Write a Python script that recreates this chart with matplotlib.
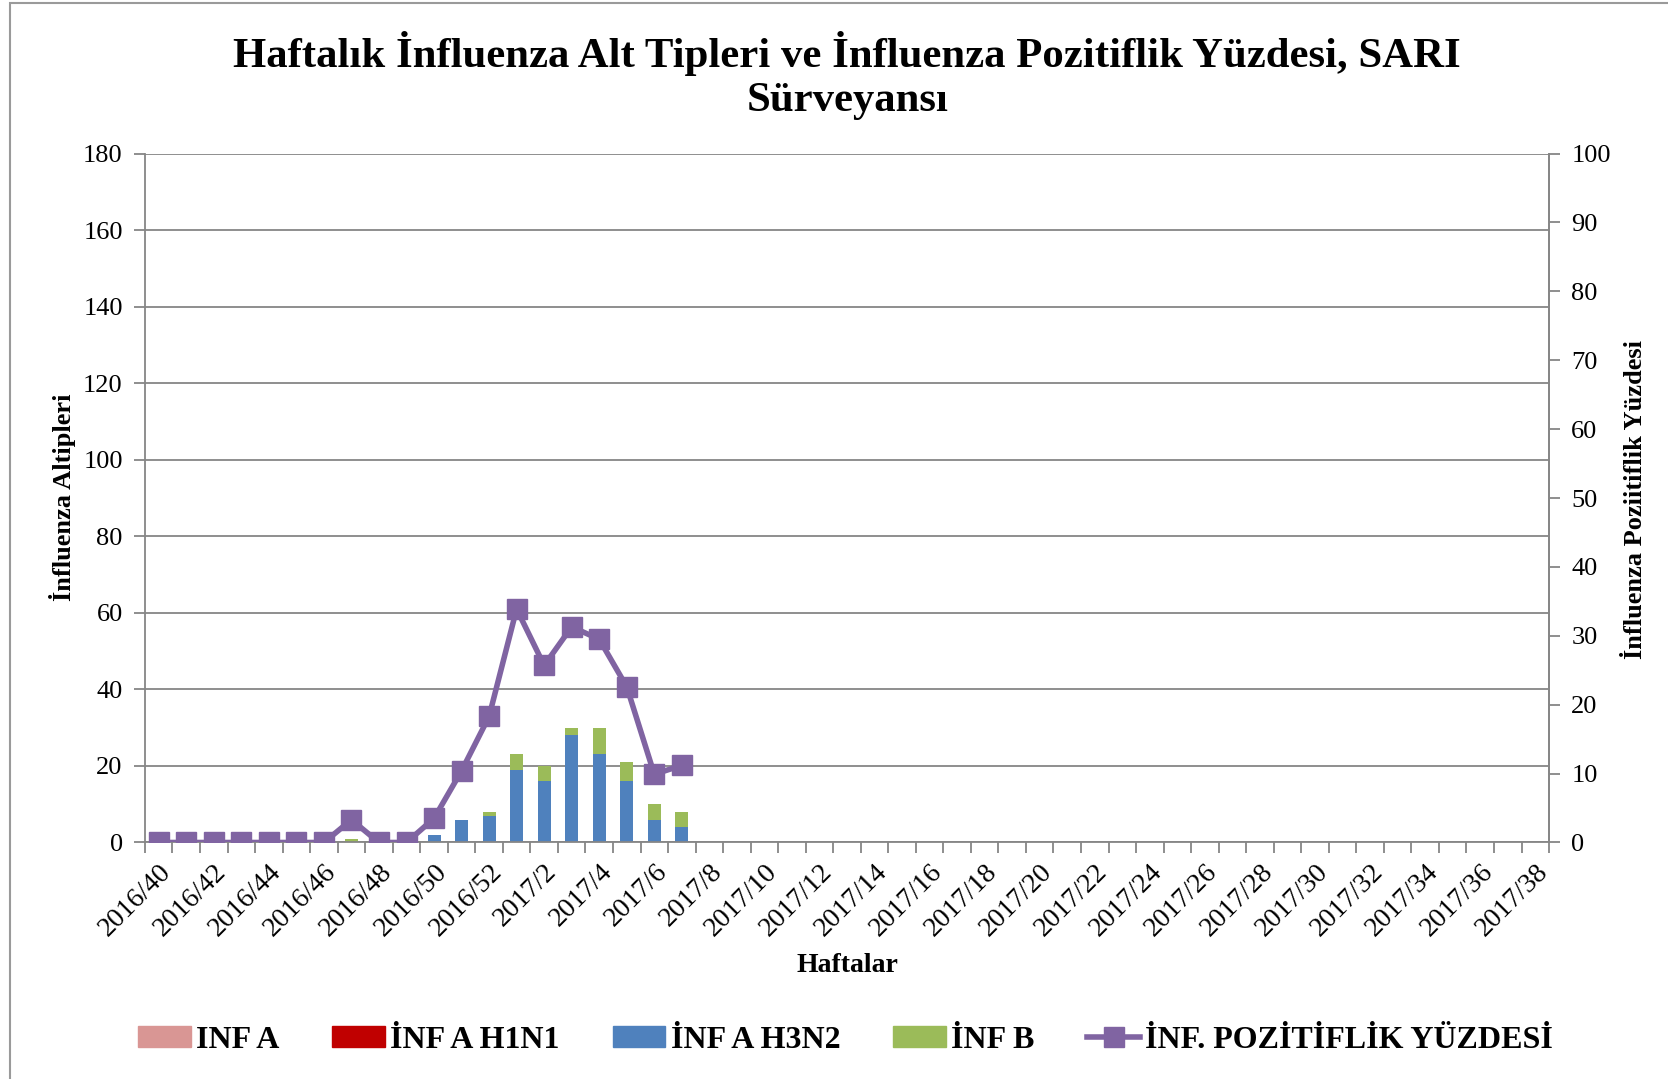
import matplotlib
matplotlib.use('Agg')
import matplotlib.pyplot as plt
from matplotlib.patches import Rectangle, Patch
from matplotlib.lines import Line2D
import numpy as np

plt.rcParams['font.family'] = ['Liberation Serif', 'DejaVu Serif']

# weeks 2016/40 .. 2017/38
weeks = ['2016/%d' % w for w in range(40, 53)] + ['2017/%d' % w for w in range(1, 39)]

# counts per week (only the first 20 weeks have data)
inf_a = [0] * 20
inf_a_h1n1 = [0] * 20
inf_a_h3n2 = [0, 0, 0, 0, 0, 0, 0, 0, 0, 0, 2, 6, 7, 19, 16, 28, 23, 16, 6, 4]
inf_b = [0, 0, 0, 0, 0, 0, 0, 1, 0, 0, 0, 0, 1, 4, 4, 2, 7, 5, 4, 4]
positivity = [0, 0, 0, 0, 0, 0, 0, 3.3, 0, 0, 3.5, 10.4, 18.3, 33.9, 25.7,
              31.3, 29.5, 22.6, 9.9, 11.2]

c_a = '#D99694'
c_h1 = '#C00000'
c_h3 = '#4F81BD'
c_b = '#9BBB59'
c_line = '#8064A2'
grey = '#868686'

fig = plt.figure(figsize=(16.68, 10.79), dpi=100)
fig.patches.append(Rectangle((10 / 1668, -0.05), 1.2, 1.05 - 3 / 1079,
                             transform=fig.transFigure, fill=False,
                             edgecolor='#9a9a9a', linewidth=1.5))

ax = fig.add_axes([0.0869, 0.2192, 0.8418, 0.6385])
n = len(weeks)
x = np.arange(len(inf_a_h3n2))
w = 0.47

a = np.array(inf_a)
h1 = np.array(inf_a_h1n1)
h3 = np.array(inf_a_h3n2)
b = np.array(inf_b)
ax.bar(x, a, w, color=c_a, zorder=2)
ax.bar(x, h1, w, bottom=a, color=c_h1, zorder=2)
ax.bar(x, h3, w, bottom=a + h1, color=c_h3, zorder=2)
ax.bar(x, b, w, bottom=a + h1 + h3, color=c_b, zorder=2)

ax.set_xlim(-0.5, n - 0.5)
ax.set_ylim(0, 180)
ax.set_yticks(range(0, 181, 20))
ax.yaxis.grid(True, color=grey, linewidth=1.3)
ax.set_axisbelow(True)

ax.set_xticks(np.arange(0, n, 2))
ax.set_xticklabels(weeks[::2], rotation=45, ha='right', va='top',
                   rotation_mode='anchor', fontsize=20)
ax.set_xticks(np.arange(-0.5, n, 1), minor=True)
ax.tick_params(axis='x', which='major', length=0, pad=12)
ax.tick_params(axis='x', which='minor', length=8, color=grey, width=1.3)
ax.tick_params(axis='y', labelsize=19, length=8, color=grey, width=1.3, pad=8)

for s in ['left', 'bottom', 'right']:
    ax.spines[s].set_color(grey)
    ax.spines[s].set_linewidth(1.3)
ax.spines['top'].set_visible(False)

ax2 = ax.twinx()
ax2.plot(x, positivity, color=c_line, linewidth=4, marker='s',
         markersize=14, zorder=3)
ax2.set_ylim(0, 100)
ax2.set_yticks(range(0, 101, 10))
ax2.tick_params(axis='y', labelsize=19, length=8, color=grey, width=1.3, pad=8)
for s in ['left', 'bottom', 'top']:
    ax2.spines[s].set_visible(False)
ax2.spines['right'].set_color(grey)
ax2.spines['right'].set_linewidth(1.3)

fig.text(0.508, 0.930,
         'Haftalık İnfluenza Alt Tipleri ve İnfluenza Pozitiflik Yüzdesi, SARI\nSürveyansı',
         ha='center', va='center', fontsize=30.8, fontweight='bold',
         linespacing=1.2)
fig.text(62 / 1668, 1 - 497 / 1079, 'İnfluenza Altipleri', rotation=90,
         ha='center', va='center', fontsize=19, fontweight='bold')
fig.text(1636 / 1668, 1 - 499 / 1079, 'İnfluenza Poziitiflik Yüzdesi',
         rotation=90, ha='center', va='center', fontsize=19, fontweight='bold')
fig.text(847 / 1668, 1 - 966 / 1079, 'Haftalar', ha='center', va='center',
         fontsize=20, fontweight='bold')

handles = [Patch(color=c_a), Patch(color=c_h1), Patch(color=c_h3),
           Patch(color=c_b),
           Line2D([], [], color=c_line, linewidth=4, marker='s', markersize=14)]
labels = ['INF A', 'İNF A H1N1', 'İNF A H3N2', 'İNF B', 'İNF. POZİTİFLİK YÜZDESİ']
fig.legend(handles, labels, loc='center', bbox_to_anchor=(0.507, 0.036),
           ncol=5, frameon=False, handlelength=1.65, handleheight=0.6,
           handletextpad=0.17, columnspacing=1.65,
           prop={'size': 23, 'weight': 'bold'})

fig.savefig('out.png', dpi=100)
